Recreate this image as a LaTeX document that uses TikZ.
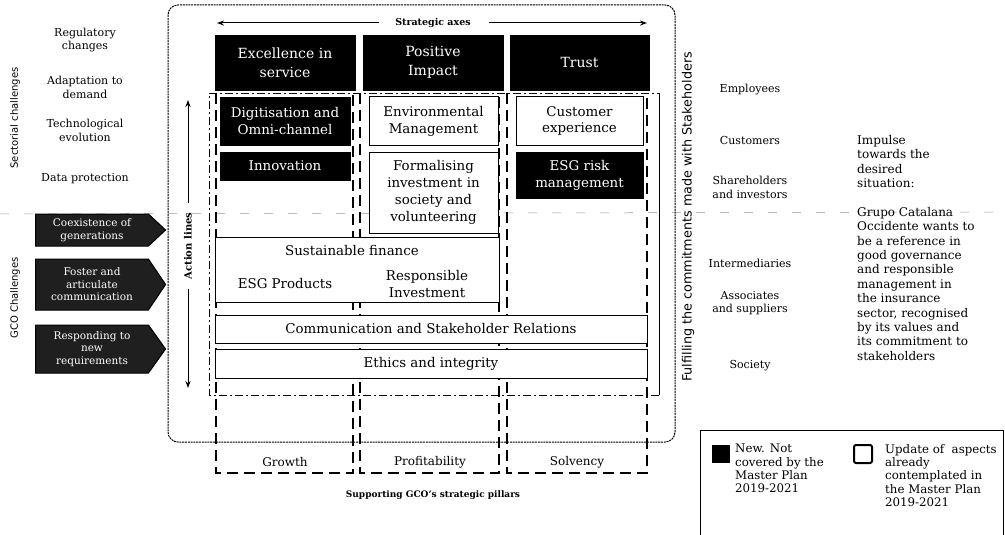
\documentclass[tikz,border=0pt]{standalone}
\usepackage{fontspec}
\setmainfont{DejaVu Serif}
\newfontfamily\sansf{DejaVu Sans}
\usetikzlibrary{arrows.meta,shapes.symbols}
\begin{document}
\begin{tikzpicture}[x=1pt,y=-1pt,
  hdr/.style={fill=black,draw=black,text=white,align=center,inner sep=0pt,minimum height=55pt,font=\fontsize{14}{19}\selectfont},
  blk/.style={fill=black,draw=black,text=white,align=center,inner sep=0pt,font=\fontsize{13.4}{16.8}\selectfont},
  wht/.style={fill=white,draw=black,line width=1pt,align=center,inner sep=0pt,font=\fontsize{13.4}{16.8}\selectfont},
  pillar/.style={draw=black,line width=2.5pt,dash pattern=on 11pt off 6pt},
  lbl/.style={align=center,inner sep=0pt,font=\fontsize{11}{13.8}\selectfont},
  side/.style={rotate=90,inner sep=0pt,font=\sansf\fontsize{10}{12}\selectfont},
  gco/.style={signal,signal to=east,fill=black!88,draw=black,line width=1pt,text=white,align=center,inner sep=0pt,font=\fontsize{10.5}{12.5}\selectfont},
  arr/.style={line width=1pt,-{Stealth[length=7pt,width=5pt]}},
  pl/.style={inner sep=0pt,font=\fontsize{12}{14}\selectfont},
  bld/.style={inner sep=0pt,font=\bfseries\fontsize{9}{11}\selectfont},
]
\useasboundingbox (0,0) rectangle (1005,535);
\fill[white] (0,0) rectangle (1005,535);
% faint artefact line
\draw[black!40,line width=0.5pt,dash pattern=on 9pt off 15pt] (0,214) -- (1005,212);
% outer frame
\draw[line width=1pt,dash pattern=on 2pt off 0.8pt,rounded corners=10pt] (168,5) rectangle (675,442);
% inner action-lines frame
\draw[line width=0.7pt,dash pattern=on 8pt off 3pt on 2pt off 3pt] (659,395) -- (209,395) -- (209,93) -- (659,93);
\draw[line width=0.8pt] (659,93) -- (659,395);
% strategic axes
\node[bld,font=\bfseries\fontsize{9.5}{11}\selectfont] (sa) at (433,23) {Strategic axes};
\coordinate (saL) at (217,23);
\coordinate (saR) at (647,23);
\draw[arr] ([xshift=-16pt]sa.west) -- (saL);
\draw[arr] ([xshift=18pt]sa.east) -- (saR);
% headers
\node[hdr,minimum width=140pt] (exc) at (285,62.5) {Excellence in\\service};
\node[hdr,minimum width=140pt] (pos) at (433,62.5) {Positive\\Impact};
\node[hdr,minimum width=139pt] (tru) at (579.5,62.5) {Trust};
% pillars
\draw[pillar] (216,93) -- (216,473) -- (353,473) -- (353,93);
\draw[pillar] (360,93) -- (360,473) -- (499,473) -- (499,93);
\draw[pillar] (507,93) -- (507,473) -- (647,473) -- (647,93);
\node[pl] (gro) at (285,462) {Growth};
\node[pl] (pro) at (430,462) {Profitability};
\node[pl] (sol) at (577,462) {Solvency};
\node[bld] (sup) at (433,495) {Supporting GCO's strategic pillars};
% action lines
\node[side,font=\bfseries\fontsize{10}{12}\selectfont] (act) at (188,246) {Action lines};
\coordinate (actT) at (188,100);
\coordinate (actB) at (188,388);
\draw[arr] ([yshift=10pt]act.east) -- (actT);
\draw[arr] ([yshift=-10pt]act.west) -- (actB);
% column boxes
\node[blk,minimum width=130pt,minimum height=48pt] (dig) at (285,121) {Digitisation and\\Omni-channel};
\node[blk,minimum width=130pt,minimum height=28pt] (inn) at (285,166) {Innovation};
\node[wht,minimum width=129pt,minimum height=48pt] (env) at (433.5,121) {Environmental\\Management};
\node[wht,minimum width=129pt,minimum height=81pt] (frm) at (433.5,192.5) {Formalising\\investment in\\society and\\volunteering};
\node[wht,minimum width=127pt,minimum height=48pt] (cus) at (579.5,121) {Customer\\experience};
\node[blk,minimum width=127pt,minimum height=46pt] (esg) at (579.5,175) {ESG risk\\management};
% sustainable finance
\node[wht,minimum width=284pt,minimum height=65pt] (sf) at (357,269.5) {};
\node[pl,font=\fontsize{13.4}{16.8}\selectfont] (sft) at (352,251) {Sustainable finance};
\node[pl,font=\fontsize{13.4}{16.8}\selectfont] (esgp) at (285,284) {ESG Products};
\node[pl,font=\fontsize{13.4}{17.5}\selectfont,align=center] (ri) at (427,284) {Responsible\\Investment};
% transversal
\node[wht,minimum width=432pt,minimum height=28pt] (com) at (431,329) {Communication and Stakeholder Relations};
\node[wht,minimum width=432pt,minimum height=29pt] (eth) at (431,363.5) {Ethics and integrity};
% left side
\node[side] (sec) at (15,118) {Sectorial challenges};
\node[lbl] (reg) at (85,40) {Regulatory\\changes};
\node[lbl] (ada) at (85,87) {Adaptation to\\demand};
\node[lbl] (tec) at (85,130) {Technological\\evolution};
\node[lbl] (dat) at (85,179) {Data protection};
\node[side] (gcol) at (15,298) {GCO Challenges};
\node[gco,signal pointer angle=86,minimum width=130pt,minimum height=32pt] (g1) at (92,230) {Coexistence of\\generations};
\node[gco,signal pointer angle=112,minimum width=130pt,minimum height=51pt] (g2) at (92,284.5) {Foster and\\articulate\\communication};
\node[gco,signal pointer angle=109,minimum width=130pt,minimum height=48pt] (g3) at (92,349) {Responding to\\new\\requirements};
% right side
\node[side,font=\sansf\fontsize{12.8}{14}\selectfont] (ful) at (688,217) {Fulfilling the commitments made with Stakeholders};
\node[lbl] (emp) at (750,90) {Employees};
\node[lbl] (cst) at (750,140) {Customers};
\node[lbl] (sha) at (750,187) {Shareholders\\and investors};
\node[lbl] (int) at (750,263) {Intermediaries};
\node[lbl] (ass) at (750,303) {Associates\\and suppliers};
\node[lbl] (soc) at (750,366) {Society};
\node[anchor=north west,inner sep=0pt,align=left,font=\fontsize{12}{14.4}\selectfont] (imp) at (857,135) {Impulse\\towards the\\desired\\situation:\\[14.4pt]Grupo Catalana\\Occidente wants to\\be a reference in\\good governance\\and responsible\\management in\\the insurance\\sector, recognised\\by its values and\\its commitment to\\stakeholders};
% legend
\draw[line width=1pt] (1003,540) -- (1003,430) -- (700,430) -- (700,540);
\node[fill=black,minimum width=18pt,minimum height=18pt,inner sep=0pt] (lnew) at (721,454) {};
\node[draw=black,line width=2pt,rounded corners=2pt,minimum width=18pt,minimum height=18pt,inner sep=0pt] (lupd) at (863,454) {};
\node[anchor=north west,inner sep=0pt,align=left,font=\fontsize{11.8}{13.3}\selectfont] (tnew) at (735,444) {New. Not\\covered by the\\Master Plan\\2019-2021};
\node[anchor=north west,inner sep=0pt,align=left,font=\fontsize{11.8}{13.3}\selectfont] (tupd) at (885,444) {Update of\ \ aspects\\already\\contemplated in\\the Master Plan\\2019-2021};
\end{tikzpicture}
\end{document}
